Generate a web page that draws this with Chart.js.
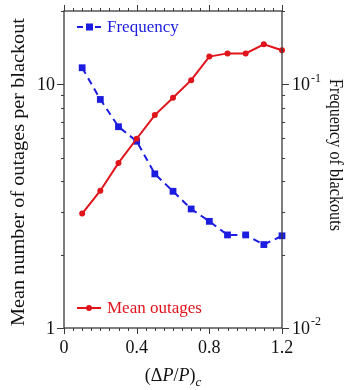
<!DOCTYPE html>
<html lang="en">
<head>
    <meta charset="UTF-8">
    <title>Mean outages and blackout frequency</title>
    <script src="https://cdn.jsdelivr.net/npm/chart.js"></script>
    <style>
        body{
            margin: 0;
            background: #fff;
        }
        #chart{
            display: block;
        }
    </style>
</head>
<body>
    <canvas id="chart" width="345" height="390"></canvas>

    <script>
        // values
        const loadMargin = [0.1, 0.2, 0.3, 0.4, 0.5, 0.6, 0.7, 0.8, 0.9, 1.0, 1.1, 1.2];
        const meanOutages = [2.95, 3.66, 4.76, 5.98, 7.48, 8.81, 10.4, 13.0, 13.4, 13.4, 14.6, 13.8];
        const frequency = [0.117, 0.0867, 0.067, 0.0584, 0.0429, 0.0364, 0.0308, 0.0274, 0.0241, 0.0241, 0.0220, 0.0239];

        const xTicks = [0, 0.4, 0.8, 1.2];
        const xTickLabels = ['0', '0.4', '0.8', '1.2'];
        const leftTicks = [1, 10];
        const leftTickLabels = ['1', '10'];
        const rightTicks = [0.01, 0.1];
        const rightTickLabels = ['-2', '-1'];   // exponents of 10

        const red = '#e0141b';
        const blue = '#1c1ce0';
        const axisColor = '#3a3a3a';
        const serif = '"Liberation Serif", "DejaVu Serif", serif';

        // rotated title, squeezed/stretched along its length to fit the given span
        function drawVerticalTitle(ctx, text, cx, cy, angle, span) {
            ctx.save();
            ctx.font = '18px ' + serif;
            const w = ctx.measureText(text).width;
            ctx.translate(cx, cy);
            ctx.rotate(angle);
            ctx.scale(span / w, 1);
            ctx.fillText(text, 0, 0);
            ctx.restore();
        }

        // frame, ticks, labels, legends, titles
        const axesPlugin = {
            id: 'axesPlugin',
            afterDraw(chart) {
                const ctx = chart.ctx;
                const area = chart.chartArea;
                const x = chart.scales.x, y = chart.scales.y, y1 = chart.scales.y1;

                ctx.save();
                ctx.strokeStyle = axisColor;
                ctx.lineWidth = 1.3;
                ctx.strokeRect(area.left, area.top, area.right - area.left, area.bottom - area.top);

                ctx.lineWidth = 1;
                ctx.beginPath();
                // x ticks, bottom and top, every 0.05
                for (let i = 0; i <= 24; i++) {
                    const v = i * 0.05;
                    const px = Math.round(x.getPixelForValue(v)) + 0.5;
                    const len = (i % 8 === 0) ? 6 : 3;
                    ctx.moveTo(px, area.bottom); ctx.lineTo(px, area.bottom + len);
                    ctx.moveTo(px, area.top); ctx.lineTo(px, area.top - len);
                }
                // log ticks left
                for (let d = 1; d <= 10; d *= 10) {
                    for (let m = 1; m <= 9; m++) {
                        const v = d * m;
                        if (v > 20) continue;
                        const py = Math.round(y.getPixelForValue(v)) + 0.5;
                        const len = m === 1 ? 7 : 3;
                        ctx.moveTo(area.left, py); ctx.lineTo(area.left - len, py);
                    }
                }
                // log ticks right
                for (let d = 0.01; d <= 0.1001; d *= 10) {
                    for (let m = 1; m <= 9; m++) {
                        const v = d * m;
                        if (v > 0.2001) continue;
                        const py = Math.round(y1.getPixelForValue(v)) + 0.5;
                        const len = m === 1 ? 7 : 3;
                        ctx.moveTo(area.right, py); ctx.lineTo(area.right + len, py);
                    }
                }
                ctx.stroke();

                // tick labels
                ctx.fillStyle = '#111';
                ctx.font = '18px ' + serif;
                ctx.textAlign = 'center';
                ctx.textBaseline = 'alphabetic';
                xTicks.forEach((v, i) => {
                    ctx.fillText(xTickLabels[i], x.getPixelForValue(v), 353);
                });
                ctx.textAlign = 'right';
                ctx.textBaseline = 'middle';
                leftTicks.forEach((v, i) => {
                    ctx.fillText(leftTickLabels[i], area.left - 9, y.getPixelForValue(v) + 1);
                });
                ctx.textAlign = 'left';
                rightTicks.forEach((v, i) => {
                    const py = y1.getPixelForValue(v) + 1;
                    ctx.font = '18px ' + serif;
                    ctx.fillText('10', area.right + 10, py);
                    const w = ctx.measureText('10').width;
                    ctx.font = '12px ' + serif;
                    ctx.fillText(rightTickLabels[i], area.right + 10 + w + 1, py - 7);
                });

                // axis titles
                ctx.textAlign = 'center';
                ctx.textBaseline = 'middle';
                drawVerticalTitle(ctx, 'Mean number of outages per blackout', 19, 172, -Math.PI / 2, 308);
                drawVerticalTitle(ctx, 'Frequency of blackouts', 335, 155, Math.PI / 2, 152);

                // (ΔP/P)c
                const parts = [
                    ['(\u0394', '18px ' + serif, 0],
                    ['P', 'italic 18px ' + serif, 0],
                    ['/', '18px ' + serif, 0],
                    ['P', 'italic 18px ' + serif, 0],
                    [')', '18px ' + serif, 0],
                    ['c', 'italic 13px ' + serif, 5]
                ];
                let total = 0;
                parts.forEach(p => { ctx.font = p[1]; total += ctx.measureText(p[0]).width; });
                let cx = 173 - total / 2;
                ctx.textAlign = 'left';
                ctx.textBaseline = 'alphabetic';
                parts.forEach(p => {
                    ctx.font = p[1];
                    ctx.fillText(p[0], cx, 381 + p[2]);
                    cx += ctx.measureText(p[0]).width;
                });

                // legends
                drawLegend(ctx, 27, blue, [6, 3], 'rect', 'Frequency');
                drawLegend(ctx, 308, red, [], 'circle', 'Mean outages');
                ctx.restore();
            }
        };

        function drawLegend(ctx, yPos, color, dash, marker, label) {
            ctx.save();
            ctx.strokeStyle = color;
            ctx.fillStyle = color;
            ctx.lineWidth = 2;
            ctx.setLineDash(dash);
            ctx.beginPath();
            ctx.moveTo(77, yPos);
            ctx.lineTo(101, yPos);
            ctx.stroke();
            ctx.setLineDash([]);
            if (marker === 'rect') {
                ctx.fillRect(86, yPos - 3.5, 7, 7);
            } else {
                ctx.beginPath();
                ctx.arc(89, yPos, 3, 0, Math.PI * 2);
                ctx.fill();
            }
            ctx.font = '17px ' + serif;
            ctx.textAlign = 'left';
            ctx.textBaseline = 'middle';
            ctx.fillText(label, 107, yPos + 1);
            ctx.restore();
        }

        const ctx = document.getElementById('chart').getContext('2d');
        const myChart = new Chart(ctx, {
            type: 'line',
            data: {
                datasets: [{
                    label: 'Mean outages',
                    data: loadMargin.map((v, i) => ({ x: v, y: meanOutages[i] })),
                    yAxisID: 'y',
                    borderColor: red,
                    backgroundColor: red,
                    borderWidth: 2,
                    pointStyle: 'circle',
                    pointRadius: 3,
                    pointBorderWidth: 0,
                    clip: false
                }, {
                    label: 'Frequency',
                    data: loadMargin.map((v, i) => ({ x: v, y: frequency[i] })),
                    yAxisID: 'y1',
                    borderColor: blue,
                    backgroundColor: blue,
                    borderWidth: 2,
                    borderDash: [7, 5],
                    pointStyle: 'rect',
                    pointRadius: 4.8,
                    pointBorderWidth: 0,
                    clip: false
                }]
            },
            options: {
                responsive: false,
                animation: false,
                layout: {
                    padding: { left: 64, right: 63, top: 11, bottom: 62 }
                },
                plugins: {
                    legend: { display: false },
                    tooltip: { enabled: false }
                },
                scales: {
                    x: { type: 'linear', min: 0, max: 1.2, display: false },
                    y: { type: 'logarithmic', position: 'left', min: 1, max: 20, display: false },
                    y1: { type: 'logarithmic', position: 'right', min: 0.01, max: 0.2, display: false }
                }
            },
            plugins: [axesPlugin]
        });
    </script>
</body>
</html>
